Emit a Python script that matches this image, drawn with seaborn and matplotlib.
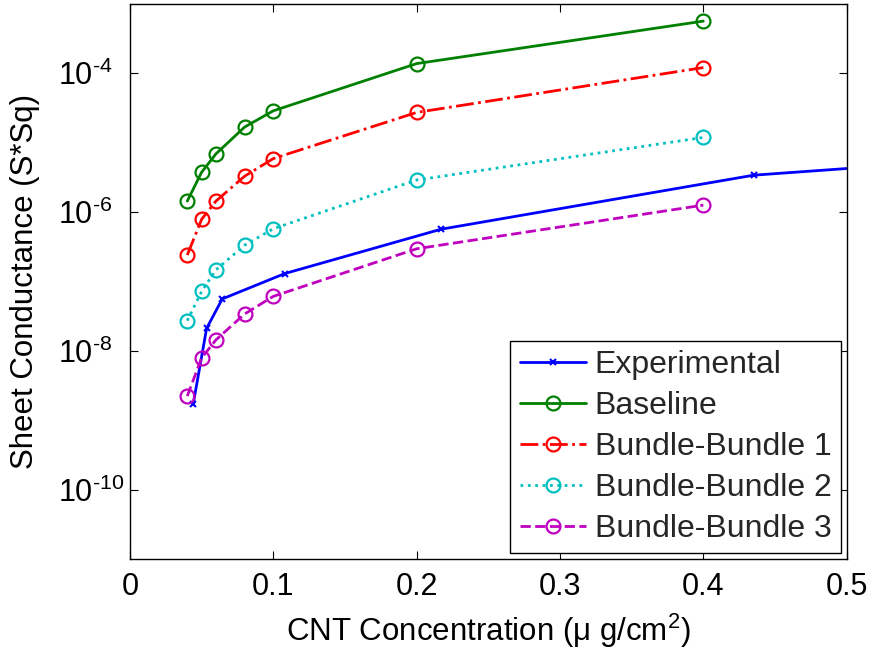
import numpy as np
import pandas as pd
import matplotlib
matplotlib.use("Agg")
import matplotlib.pyplot as plt
from matplotlib.ticker import NullLocator
import seaborn as sns

# data
exp_x = [0.0442, 0.0535, 0.0644, 0.108, 0.217, 0.435, 0.87]
exp_y = [1.74e-9, 2.11e-8, 5.6e-8, 1.3e-7, 5.66e-7, 3.4e-6, 1.5e-5]

model_x = [0.04, 0.05, 0.06, 0.08, 0.1, 0.2, 0.4]
baseline = [1.44e-6, 3.75e-6, 6.9e-6, 1.68e-5, 2.88e-5, 1.38e-4, 5.65e-4]
bundle1 = [2.4e-7, 7.85e-7, 1.44e-6, 3.29e-6, 5.9e-6, 2.73e-5, 1.21e-4]
bundle2 = [2.72e-8, 7.2e-8, 1.47e-7, 3.33e-7, 5.75e-7, 2.9e-6, 1.19e-5]
bundle3 = [2.23e-9, 7.9e-9, 1.44e-8, 3.4e-8, 6.1e-8, 2.96e-7, 1.26e-6]

ytick_vals = [1e-10, 1e-8, 1e-6, 1e-4]
ytick_exps = ["-10", "-8", "-6", "-4"]

sns.set_theme(style="white")
plt.rcParams["font.family"] = ["Liberation Sans", "DejaVu Sans"]
plt.rcParams["mathtext.fontset"] = "custom"
plt.rcParams["mathtext.rm"] = "Liberation Sans"
plt.rcParams["mathtext.it"] = "Liberation Sans:italic"
plt.rcParams["mathtext.default"] = "regular"

fig = plt.figure(figsize=(8.72, 6.52), dpi=100)
ax = fig.add_axes([0.149, 0.1426, 0.822, 0.8514])

series = [
    ("Baseline", model_x, baseline, (0, 0.5, 0), "-"),
    ("Bundle-Bundle 1", model_x, bundle1, (1, 0, 0), "-."),
    ("Bundle-Bundle 2", model_x, bundle2, (0, 0.75, 0.75), ":"),
    ("Bundle-Bundle 3", model_x, bundle3, (0.75, 0, 0.75), "--"),
]

sns.lineplot(x=exp_x, y=exp_y, ax=ax, color="blue", linestyle="-",
             linewidth=2, marker="x", markersize=5,
             markeredgecolor="blue", markeredgewidth=1.5,
             label="Experimental", sort=False)

for name, xs, ys, col, ls in series:
    sns.lineplot(x=xs, y=ys, ax=ax, color=col, linestyle=ls, linewidth=2,
                 marker="o", markersize=10, markerfacecolor="none",
                 markeredgecolor=col, markeredgewidth=1.6,
                 label=name, sort=False)

ax.set_yscale("log")
ax.set_xlim(0, 0.5)
ax.set_ylim(1e-11, 1e-3)
ax.set_xticks([0, 0.1, 0.2, 0.3, 0.4, 0.5])
ax.set_xticklabels(["0", "0.1", "0.2", "0.3", "0.4", "0.5"])
ax.set_yticks(ytick_vals)
ax.set_yticklabels([r"$10^{\text{%s}}$" % e for e in ytick_exps])
ax.yaxis.set_minor_locator(NullLocator())
ax.xaxis.set_minor_locator(NullLocator())

ax.tick_params(axis="both", which="major", direction="in", length=6,
               width=0.8, color="black", labelsize=22,
               top=True, right=True, bottom=True, left=True,
               labelcolor="black")
ax.tick_params(axis="x", pad=9)
ax.tick_params(axis="y", pad=52)
for lab in ax.get_yticklabels():
    lab.set_horizontalalignment("left")

for s in ax.spines.values():
    s.set_visible(True)
    s.set_color("black")
    s.set_linewidth(1)

ax.set_xlabel("CNT Concentration (\u03bc g/cm$^2$)", fontsize=22.5,
              color="black", labelpad=7)
ax.set_ylabel("Sheet Conductance (S*Sq)", fontsize=22.5, color="black")
ax.yaxis.set_label_coords(-0.125, 0.5)

leg = ax.legend(loc="lower right", fontsize=23, frameon=True, fancybox=False,
                edgecolor="black", framealpha=1, borderpad=0.3,
                labelspacing=0.34, handlelength=2.07, handletextpad=0.27,
                borderaxespad=0.18)
leg.get_frame().set_linewidth(1)

ax.grid(False)
fig.savefig("out.png", dpi=100, facecolor="white")
